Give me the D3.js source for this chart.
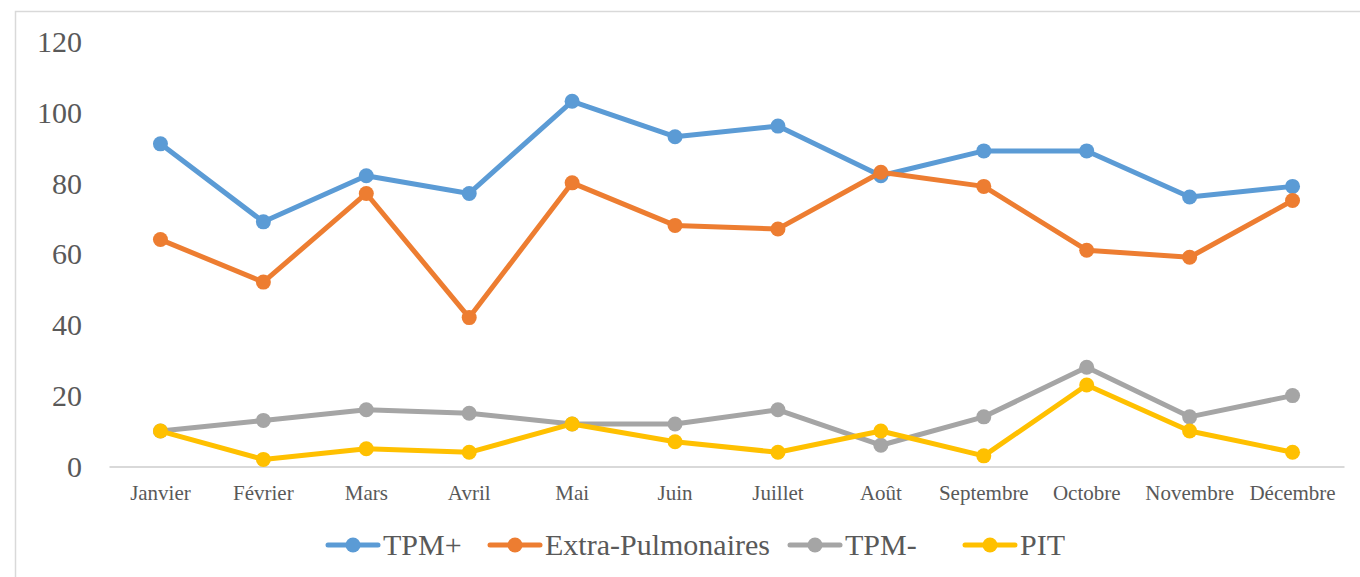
<!DOCTYPE html>
<html>
<head>
<meta charset="utf-8">
<script src="https://cdn.jsdelivr.net/npm/d3@7"></script>
<style>
  body { margin: 0; background: #fff; }
  text { font-family: "Liberation Serif", "Times New Roman", serif; fill: #595959; }
</style>
</head>
<body>
<div id="chart"></div>
<script>
const months = ["Janvier", "Février", "Mars", "Avril", "Mai", "Juin", "Juillet", "Août", "Septembre", "Octobre", "Novembre", "Décembre"];
const tpmPlus = [91, 69, 82, 77, 103, 93, 96, 82, 89, 89, 76, 79];
const extraPulmonaires = [64, 52, 77, 42, 80, 68, 67, 83, 79, 61, 59, 75];
const tpmMinus = [10, 13, 16, 15, 12, 12, 16, 6, 14, 28, 14, 20];
const pit = [10, 2, 5, 4, 12, 7, 4, 10, 3, 23, 10, 4];
const yTicks = [0, 20, 40, 60, 80, 100, 120];

const series = [
  { name: "TPM+", values: tpmPlus, color: "#5B9BD5" },
  { name: "Extra-Pulmonaires", values: extraPulmonaires, color: "#ED7D31" },
  { name: "TPM-", values: tpmMinus, color: "#A5A5A5" },
  { name: "PIT", values: pit, color: "#FFC000" },
];

const width = 1360;
const height = 577;
const margin = { top: 41, right: 16, bottom: 110.5, left: 109 };

const svg = d3
  .select("#chart")
  .append("svg")
  .attr("width", width)
  .attr("height", height);

// chart frame
svg
  .append("rect")
  .attr("x", 15.5)
  .attr("y", 11.5)
  .attr("width", 1500)
  .attr("height", 700)
  .attr("fill", "none")
  .attr("stroke", "#D9D9D9")
  .attr("stroke-width", 1.5);

const xScale = d3
  .scaleBand()
  .domain(months)
  .range([margin.left, width - margin.right]);

const yScale = d3
  .scaleLinear()
  .domain([0, 120])
  .range([height - margin.bottom, margin.top]);

const xCenter = (m) => xScale(m) + xScale.bandwidth() / 2;

// y axis labels
const yAxis = svg
  .append("g")
  .attr("transform", `translate(82, 0)`)
  .call(d3.axisLeft(yScale).tickValues(yTicks).tickSize(0).tickPadding(0));
yAxis.select(".domain").remove();
yAxis
  .selectAll("text")
  .style("font-family", "'Liberation Serif', serif")
  .style("font-size", "30px")
  .attr("fill", "#595959")
  .attr("dy", "0.34em");

// x axis
const xAxis = svg
  .append("g")
  .attr("transform", `translate(0, ${yScale(0)})`)
  .call(d3.axisBottom(xScale).tickSize(0).tickPadding(19));
xAxis.select(".domain").attr("stroke", "#D9D9D9").attr("stroke-width", 2);
xAxis
  .selectAll("text")
  .style("font-family", "'Liberation Serif', serif")
  .style("font-size", "21px")
  .attr("fill", "#595959");

const lineGenerator = d3
  .line()
  .x((d, i) => xCenter(months[i]))
  .y((d) => yScale(d));

const seriesGroup = svg
  .selectAll(".series")
  .data(series)
  .join("g")
  .attr("class", "series");

seriesGroup
  .append("path")
  .attr("fill", "none")
  .attr("stroke", (d) => d.color)
  .attr("stroke-width", 5)
  .attr("stroke-linejoin", "round")
  .attr("stroke-linecap", "round")
  .attr("d", (d) => lineGenerator(d.values));

seriesGroup
  .selectAll("circle")
  .data((d) => d.values.map((v, i) => ({ v, i, color: d.color })))
  .join("circle")
  .attr("cx", (d) => xCenter(months[d.i]))
  .attr("cy", (d) => yScale(d.v))
  .attr("r", 7.5)
  .attr("fill", (d) => d.color);

// legend
const legendX = [328, 490, 790, 965];
const legendY = 545;
const legend = svg
  .selectAll(".legend")
  .data(series)
  .join("g")
  .attr("class", "legend")
  .attr("transform", (d, i) => `translate(${legendX[i]}, ${legendY})`);

legend
  .append("line")
  .attr("x1", 0)
  .attr("x2", 50)
  .attr("stroke", (d) => d.color)
  .attr("stroke-width", 5)
  .attr("stroke-linecap", "round");

legend
  .append("circle")
  .attr("cx", 25)
  .attr("r", 7.5)
  .attr("fill", (d) => d.color);

legend
  .append("text")
  .attr("x", 55)
  .attr("dy", "0.34em")
  .style("font-size", "30px")
  .text((d) => d.name);
</script>
</body>
</html>
